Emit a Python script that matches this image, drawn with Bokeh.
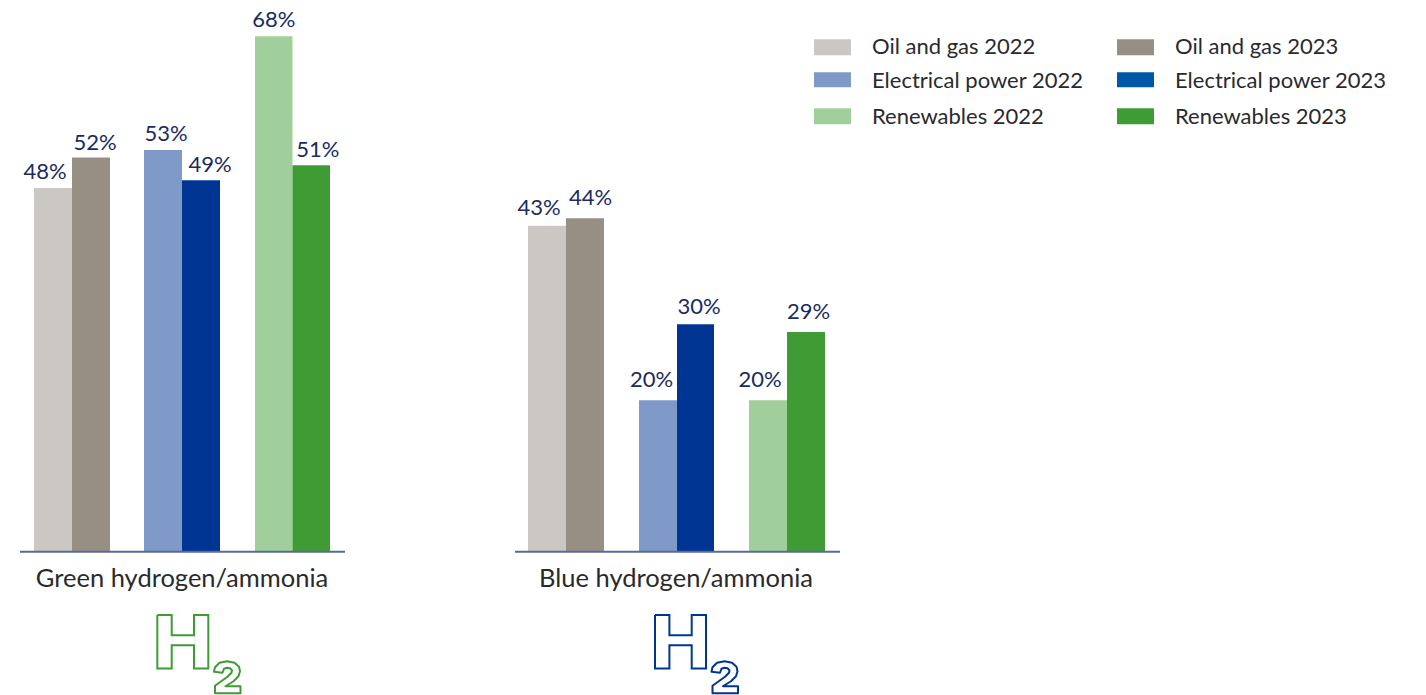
from bokeh.core.properties import value
from bokeh.embed import file_html
from bokeh.models import ColumnDataSource, Range1d
from bokeh.plotting import figure
from bokeh.resources import INLINE

# Share of respondents per sector, two survey years
oil_2022 = [48, 43]
oil_2023 = [52, 44]
power_2022 = [53, 20]
power_2023 = [49, 30]
renew_2022 = [68, 20]
renew_2023 = [51, 29]
panels = ["Green hydrogen/ammonia", "Blue hydrogen/ammonia"]
legend_labels = ["Oil and gas 2022", "Electrical power 2022", "Renewables 2022",
                 "Oil and gas 2023", "Electrical power 2023", "Renewables 2023"]

W, H = 1426, 695
BASE_PX = 551.5
PX_PER_UNIT = 7.58
FONT = "Lato"
INK = "#1b2b5e"
TEXT = "#2a2a2d"
GREEN = "#3f9c35"
NAVY = "#003594"


def vy(py):
    """Vertical window position to value units."""
    return (BASE_PX - py) / PX_PER_UNIT


p = figure(width=W, height=H, output_backend="svg", toolbar_location=None,
           x_range=Range1d(0.5, W + 0.5), y_range=Range1d(vy(H + 0.25), vy(0.25)),
           min_border=0, outline_line_color=None)
p.axis.visible = False
p.grid.visible = False
p.background_fill_color = "#ffffff"

series = [
    (oil_2022, "#cbc8c3", [34, 528], [72, 566]),
    (oil_2023, "#988f84", [72, 566], [110, 604]),
    (power_2022, "#7f9ac8", [144, 639], [182, 677]),
    (power_2023, NAVY, [182, 677], [220, 714]),
    (renew_2022, "#a0cf9b", [255, 749], [292.5, 787]),
    (renew_2023, GREEN, [292.5, 787], [330, 825]),
]
# Horizontal and vertical placement of each value label, per panel
label_nudge = [[-8, -8], [4, 5.5], [3, -6.5], [9, 3.5], [0, -8], [6.5, 2.5]]
label_lift = [[-4, -6], [-3, -8], [-4, -8], [-3, -5], [-4, -8], [-3, -8]]

for (vals, color, lefts, rights), nudge, lift in zip(series, label_nudge, label_lift):
    src = ColumnDataSource(dict(left=lefts, right=rights, top=vals, bottom=[0, 0],
                                lx=[(a + b) / 2 + n for a, b, n in zip(lefts, rights, nudge)],
                                lift=lift, lab=[f"{v}%" for v in vals]))
    p.quad(left="left", right="right", top="top", bottom="bottom", source=src,
           fill_color=color, line_color=None)
    p.text(x="lx", y="top", text="lab", source=src, text_align="center",
           text_baseline="bottom", text_color=INK, text_font=value(FONT),
           text_font_size="22px", y_offset="lift")

# Baselines and panel titles
for x0, x1, cx, title in zip([20, 515], [345, 840], [182, 676], panels):
    p.line([x0, x1], [0, 0], line_color="#5b6a94", line_width=2)
    p.text(x=[cx], y=[vy(577)], text=[title], text_align="center", text_baseline="middle",
           text_color=TEXT, text_font=value(FONT), text_font_size="25.5px")

# Legend in two columns
swatch_y = [(39, 55), (72, 87), (108, 124)]
text_y = [45, 79, 115]
swatch_cols = ["#cbc8c3", "#7f9ac8", "#a0cf9b", "#988f84", "#0057a8", GREEN]
for i, (lab, col) in enumerate(zip(legend_labels, swatch_cols)):
    row, column = i % 3, i // 3
    sx = [814, 1117][column]
    p.quad(left=[sx], right=[sx + 37], top=[vy(swatch_y[row][0])], bottom=[vy(swatch_y[row][1])],
           fill_color=col, line_color=None)
    p.text(x=[sx + 58], y=[vy(text_y[row])], text=[lab], text_align="left", text_baseline="middle",
           text_color=TEXT, text_font=value(FONT), text_font_size="22px")

# H2 molecule icon, outlined
H_SHAPE = [(0, 0), (14.4, 0), (14.4, 20.3), (36.7, 20.3), (36.7, 0), (51, 0), (51, 53.6),
           (36.7, 53.6), (36.7, 30.3), (14.4, 30.3), (14.4, 53.6), (0, 53.6), (0, 0)]
TWO_SHAPE = [(1.5, 31), (1.5, 24.5), (14, 15.5), (18, 11.5), (18.5, 9), (16.5, 7), (13.5, 6.5),
             (10.5, 7.5), (9, 11.5), (0.5, 10.5), (1.5, 6), (6, 1.5), (13.5, 0), (21, 1.5),
             (25.5, 5.5), (26.5, 10), (25, 15), (20, 20), (12, 25), (27, 25), (27, 32), (1.5, 32),
             (1.5, 31)]
for hx, tx, col in [(157.3, 213.5, GREEN), (655, 711, NAVY)]:
    p.line([hx + a for a, _ in H_SHAPE], [vy(614.7 + b) for _, b in H_SHAPE],
           line_color=col, line_width=2, line_join="miter")
    p.line([tx + a for a, _ in TWO_SHAPE], [vy(661 + b) for _, b in TWO_SHAPE],
           line_color=col, line_width=2, line_join="round")

open("out.html", "w").write(file_html(p, INLINE))
